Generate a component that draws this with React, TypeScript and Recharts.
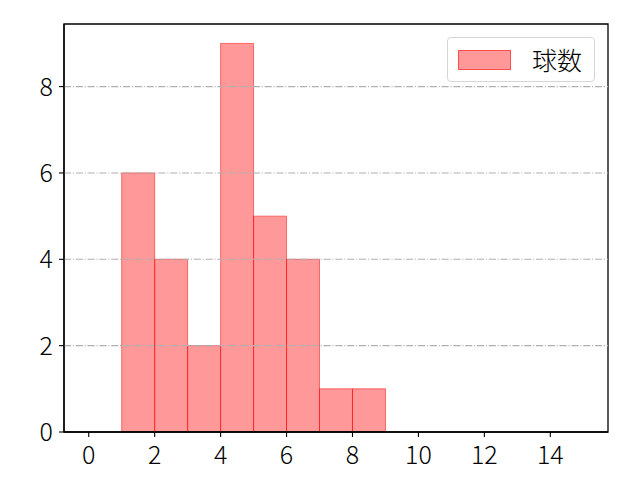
import React from "react"
import {
  ComposedChart,
  Line,
  XAxis,
  YAxis,
  ReferenceArea,
  ReferenceLine,
} from "recharts"

// histogram bins (width 1) and counts
const binEdges = [1, 2, 3, 4, 5, 6, 7, 8, 9]
const counts = [6, 4, 2, 9, 5, 4, 1, 1]
const xTicks = [0, 2, 4, 6, 8, 10, 12, 14]
const yTicks = [0, 2, 4, 6, 8]
const gridTicks = [2, 4, 6, 8]
const xDomain: [number, number] = [-0.75, 15.75]
const yDomain: [number, number] = [0, 9.45]
const seriesName = "球数"

const FONT = "Noto Sans CJK JP, Noto Sans, sans-serif"

const data = counts.map((c, i) => ({ x: (binEdges[i] + binEdges[i + 1]) / 2, count: c }))

const XTick = (props: any) => {
  const { x, y, payload } = props
  return (
    <text x={x} y={y + 23} textAnchor="middle" style={{ fontFamily: FONT, fontSize: 25, fontWeight: 300, fill: "#000" }}>
      {payload.value}
    </text>
  )
}

const YTick = (props: any) => {
  const { x, y, payload } = props
  return (
    <text x={x} y={y + 9} textAnchor="end" style={{ fontFamily: FONT, fontSize: 25, fontWeight: 300, fill: "#000" }}>
      {payload.value}
    </text>
  )
}

export default function App() {
  return (
    <div style={{ position: "absolute", left: 0, top: 0, width: 640, height: 480, background: "#fff", fontFamily: FONT }}>
      <ComposedChart
        width={640}
        height={480}
        data={data}
        margin={{ top: 24, right: 32, bottom: 0, left: 0 }}
      >
        <XAxis
          dataKey="x"
          type="number"
          domain={xDomain}
          ticks={xTicks}
          allowDataOverflow
          height={48}
          tickSize={5}
          tickMargin={4}
          axisLine={{ stroke: "#000", strokeWidth: 1.3 }}
          tickLine={{ stroke: "#000", strokeWidth: 1.1 }}
          tick={<XTick />}
        />
        <YAxis
          type="number"
          domain={yDomain}
          ticks={yTicks}
          allowDataOverflow
          width={64}
          tickSize={5}
          tickMargin={6}
          axisLine={{ stroke: "#000", strokeWidth: 1.3 }}
          tickLine={{ stroke: "#000", strokeWidth: 1.1 }}
          tick={<YTick />}
        />
        {counts.map((c, i) => (
          <ReferenceArea
            key={`bin-${i}`}
            x1={binEdges[i]}
            x2={binEdges[i + 1]}
            y1={0}
            y2={c}
            fill="#ff0000"
            fillOpacity={0.4}
            stroke="#ff0000"
            strokeOpacity={0.5}
            strokeWidth={1}
          />
        ))}
        {gridTicks.map((t) => (
          <ReferenceLine
            key={`grid-${t}`}
            y={t}
            stroke="#b0b0b0"
            strokeWidth={1.1}
            strokeDasharray="7.1 1.8 1.1 1.8"
          />
        ))}
        <ReferenceArea
          x1={xDomain[0]}
          x2={xDomain[1]}
          y1={yDomain[0]}
          y2={yDomain[1]}
          fill="none"
          stroke="#000"
          strokeWidth={1.3}
          fillOpacity={0}
        />
        <Line
          dataKey="count"
          stroke="none"
          dot={false}
          legendType="none"
          isAnimationActive={false}
        />
      </ComposedChart>
      {/* Legend */}
      <div
        style={{
          position: "absolute",
          left: 447,
          top: 37,
          width: 148,
          height: 45,
          boxSizing: "border-box",
          border: "1px solid #d5d5d5",
          borderRadius: 4,
          background: "rgba(255,255,255,0.8)",
          display: "flex",
          alignItems: "center",
        }}
      >
        <div
          style={{
            marginLeft: 10,
            width: 53,
            height: 20,
            boxSizing: "border-box",
            background: "rgba(255,0,0,0.4)",
            border: "1px solid rgba(255,0,0,0.5)",
          }}
        />
        <span style={{ marginLeft: 21, fontSize: 25, fontWeight: 300, color: "#000", lineHeight: 1 }}>{seriesName}</span>
      </div>
    </div>
  )
}
